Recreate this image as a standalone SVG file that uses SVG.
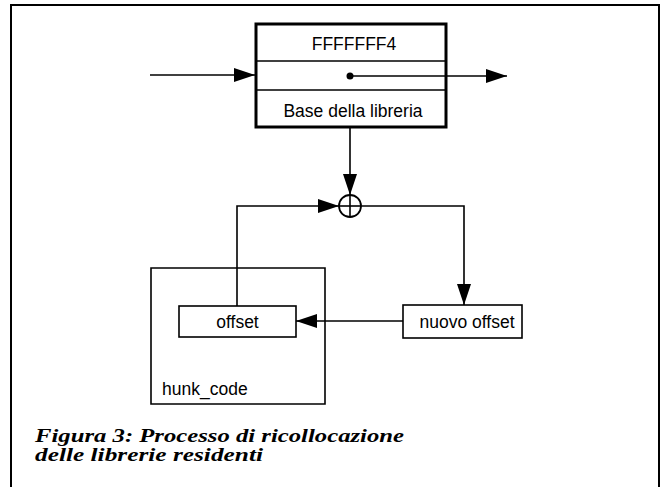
<svg xmlns="http://www.w3.org/2000/svg" width="665" height="487" viewBox="0 0 665 487">
<style>
.ln{fill:none;stroke:#000;stroke-width:1.6}
.bx{fill:#fff;stroke:#000;stroke-width:1.6}
.t{font-family:"Liberation Sans",Arial,sans-serif;font-size:17.5px;fill:#000}
.cap{font-family:"Liberation Serif","Times New Roman",serif;font-size:19px;font-weight:bold;font-style:italic;fill:#000}
</style>
<defs>
<marker id="ah" markerUnits="userSpaceOnUse" markerWidth="21" markerHeight="14" refX="21" refY="7" orient="auto">
<path d="M0,0 L21,7 L0,14 z" fill="#000"/>
</marker>
</defs>
<rect width="665" height="487" fill="#fff"/>
<path d="M11,490 V5 H659 V490" fill="none" stroke="#000" stroke-width="2"/>
<g id="library-base">
<rect x="256" y="24" width="190" height="103" fill="#fff" stroke="#000" stroke-width="3"/>
<line class="ln" x1="256" y1="61" x2="446" y2="61"/>
<line class="ln" x1="256" y1="90" x2="446" y2="90"/>
<text class="t" x="354" y="50" text-anchor="middle">FFFFFFF4</text>
<circle cx="350" cy="76" r="3.5" fill="#000"/>
<text class="t" x="353" y="117" text-anchor="middle">Base della libreria</text>
</g>
<g id="adder">
<circle cx="350" cy="206" r="11" fill="#fff" stroke="#000" stroke-width="1.8"/>
<line class="ln" x1="339" y1="206" x2="361" y2="206"/>
<line class="ln" x1="350" y1="195" x2="350" y2="217"/>
</g>
<g id="hunk_code">
<path class="ln" d="M151,268 H325 V404 H151 Z"/>
<text class="t" x="162" y="395">hunk_code</text>
</g>
<g id="offset">
<rect class="bx" x="179" y="306" width="117" height="31"/>
<text class="t" x="237.5" y="328" text-anchor="middle">offset</text>
</g>
<g id="nuovo-offset">
<rect class="bx" x="403" y="305" width="119" height="33"/>
<text class="t" x="467" y="328" text-anchor="middle">nuovo offset</text>
</g>
<g id="connectors">
<line class="ln" x1="150" y1="75" x2="255" y2="75" marker-end="url(#ah)"/>
<line class="ln" x1="350" y1="76" x2="507" y2="76" marker-end="url(#ah)"/>
<line class="ln" x1="350" y1="128" x2="350" y2="195" marker-end="url(#ah)"/>
<path class="ln" d="M237,306 V206 H339" marker-end="url(#ah)"/>
<path class="ln" d="M361,206 H464 V305" marker-end="url(#ah)"/>
<line class="ln" x1="403" y1="321" x2="296" y2="321" marker-end="url(#ah)"/>
</g>
<g id="caption">
<text class="cap" x="35" y="442" textLength="369" lengthAdjust="spacingAndGlyphs">Figura 3: Processo di ricollocazione</text>
<text class="cap" x="35" y="461" textLength="228" lengthAdjust="spacingAndGlyphs">delle librerie residenti</text>
</g>
</svg>
